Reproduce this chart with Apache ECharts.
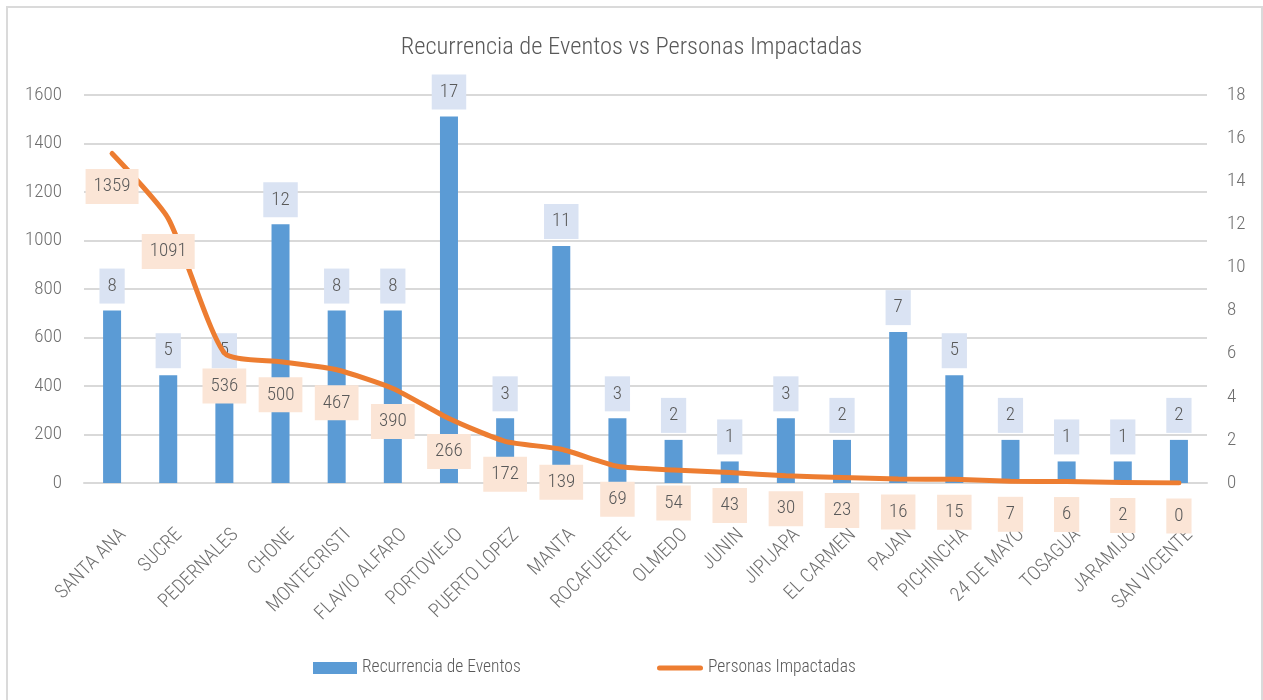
<!DOCTYPE html>
<html><head><meta charset="utf-8">
<script src="https://cdn.jsdelivr.net/npm/echarts@6/dist/echarts.min.js"></script>
<style>
html,body{margin:0;padding:0;background:#fff;overflow:hidden;}
#frame{position:absolute;left:6px;top:6px;width:1257px;height:710px;border:2px solid #dadada;box-sizing:border-box;}
#c{position:absolute;left:0;top:0;width:1263px;height:700px;}
</style></head>
<body>
<div id="frame"></div>
<div id="c"></div>
<script>
const categories = ['SANTA ANA','SUCRE','PEDERNALES','CHONE','MONTECRISTI','FLAVIO ALFARO','PORTOVIEJO','PUERTO LOPEZ','MANTA','ROCAFUERTE','OLMEDO','JUNIN','JIPIJAPA','EL CARMEN','PAJAN','PICHINCHA','24 DE MAYO','TOSAGUA','JARAMIJO','SAN VICENTE'];
const eventos = [8,5,5,12,8,8,17,3,11,3,2,1,3,2,7,5,2,1,1,2];
const personas = [1359,1091,536,500,467,390,266,172,139,69,54,43,30,23,16,15,7,6,2,0];
const titleText = 'Recurrencia de Eventos vs Personas Impactadas';
const seriesNames = ['Recurrencia de Eventos','Personas Impactadas'];

const FONT = "'Roboto Condensed','Roboto',sans-serif";
const W = 300;
const TXT = '#595959';
const AX = '#6f6f6f';
const chart = echarts.init(document.getElementById('c'), null, {renderer:'canvas'});
chart.setOption({
  animation:false,
  textStyle:{fontFamily:FONT,fontWeight:W},
  title:{text:titleText,left:'center',top:30,textStyle:{fontFamily:FONT,fontSize:24.5,fontWeight:W,color:TXT}},
  legend:[
    {left:308,top:654,itemWidth:44,itemHeight:12,itemGap:0,
     textStyle:{fontFamily:FONT,fontWeight:W,fontSize:17.5,color:TXT},
     data:[{name:seriesNames[0],icon:'rect'}]},
    {left:652,top:654,itemWidth:46,itemHeight:12,itemGap:0,
     textStyle:{fontFamily:FONT,fontWeight:W,fontSize:17.5,color:TXT},
     data:[{name:seriesNames[1],icon:'path://M2.5,0 L43.5,0 Q46,0 46,2.5 Q46,5 43.5,5 L2.5,5 Q0,5 0,2.5 Q0,0 2.5,0 Z',itemStyle:{color:'#ed7d31'}}]}
  ],
  grid:[
    {left:84,right:56,top:95,bottom:217,containLabel:false},
    {left:95,right:45,top:95,bottom:217,containLabel:false}
  ],
  xAxis:[
    {type:'category',data:categories,gridIndex:0,
     axisLine:{lineStyle:{color:'#d9d9d9',width:2}},axisTick:{show:false},axisLabel:{show:false}},
    {type:'category',data:categories,gridIndex:1,
     axisLine:{show:false},axisTick:{show:false},
     axisLabel:{rotate:45,color:AX,fontFamily:FONT,fontWeight:W,fontSize:19.5,margin:49,interval:0}}
  ],
  yAxis:[
    {type:'value',min:0,max:1600,interval:200,position:'left',gridIndex:0,
     axisLabel:{color:AX,fontFamily:FONT,fontWeight:W,fontSize:19,margin:22,formatter:v=>String(v)},
     splitLine:{lineStyle:{color:'#d9d9d9',width:2}},axisLine:{show:false},axisTick:{show:false}},
    {type:'value',min:0,max:18,interval:2,position:'right',gridIndex:0,
     axisLabel:{color:AX,fontFamily:FONT,fontWeight:W,fontSize:19,margin:20},
     splitLine:{show:false},axisLine:{show:false},axisTick:{show:false}},
    {type:'value',min:0,max:1,gridIndex:1,show:false}
  ],
  series:[
    {name:seriesNames[0],type:'bar',xAxisIndex:0,yAxisIndex:1,data:eventos,barWidth:18,
     itemStyle:{color:'#5b9bd5'},
     label:{show:true,position:'top',distance:7,color:TXT,fontFamily:FONT,fontWeight:W,fontSize:19,
       backgroundColor:'#dae3f3',padding:[8,8,8,8]}},
    {name:seriesNames[1],type:'line',xAxisIndex:0,yAxisIndex:0,data:personas,smooth:0.2,
     symbol:'circle',symbolSize:1,showSymbol:true,
     lineStyle:{color:'#ed7d31',width:5,cap:'round',join:'round'},itemStyle:{color:'#ed7d31'},
     label:{show:true,position:'bottom',distance:15,color:TXT,fontFamily:FONT,fontWeight:W,fontSize:19,
       backgroundColor:'#fbe5d6',padding:[8,8,8,8]},
     z:3}
  ]
});
</script>
</body></html>
